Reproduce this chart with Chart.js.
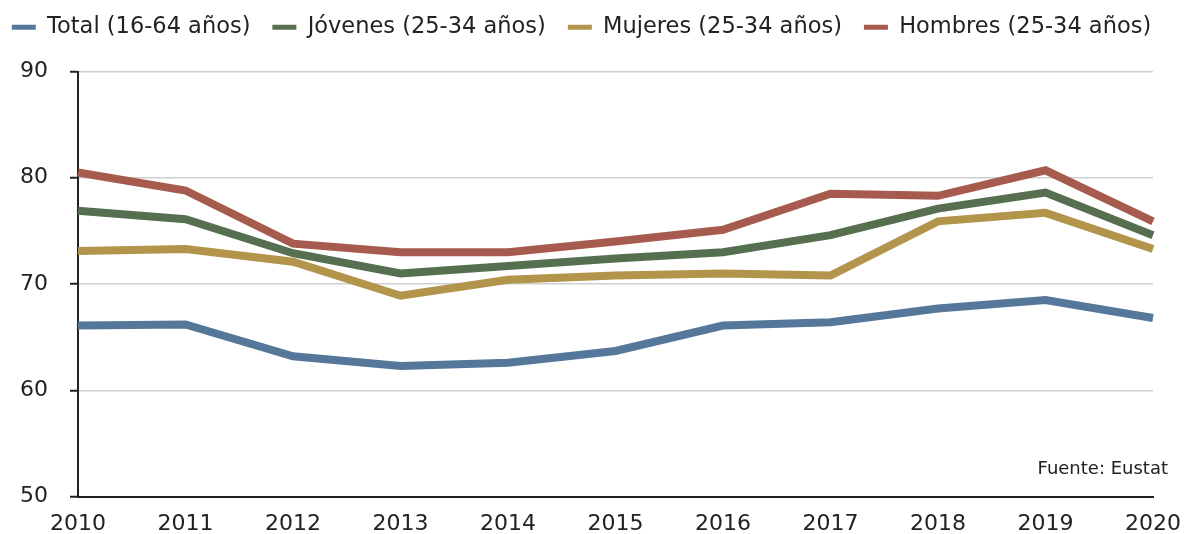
<!DOCTYPE html>
<html><head><meta charset="utf-8">
<script src="https://cdn.jsdelivr.net/npm/chart.js@4/dist/chart.umd.min.js"></script>
<style>
html,body{margin:0;padding:0;background:#fff;}
#wrap{position:relative;width:1184px;height:534px;}
#src{position:absolute;right:16px;top:457px;font-family:"DejaVu Sans",sans-serif;font-size:18px;color:#222;}
</style></head>
<body><div id="wrap"><canvas id="c" width="1184" height="534"></canvas><div id="src">Fuente: Eustat</div></div>
<script>
const years = ["2010","2011","2012","2013","2014","2015","2016","2017","2018","2019","2020"];
const total = [66.1,66.2,63.2,62.3,62.6,63.7,66.1,66.4,67.7,68.5,66.8];
const jovenes = [76.9,76.1,72.9,71.0,71.7,72.4,73.0,74.6,77.1,78.6,74.6];
const mujeres = [73.1,73.3,72.1,68.9,70.4,70.8,71.0,70.8,75.9,76.7,73.3];
const hombres = [80.5,78.8,73.8,73.0,73.0,74.0,75.1,78.5,78.3,80.7,75.9];
const seriesNames = ["Total (16-64 años)","Jóvenes (25-34 años)","Mujeres (25-34 años)","Hombres (25-34 años)"];
const colors = ["#55789a","#566f50","#b2944b","#a65b4e"];
const yTicks = [50,60,70,80,90];

const FONT = "'DejaVu Sans', sans-serif";
const data = [total, jovenes, mujeres, hombres];
const legendSpace = {
  id: 'legendSpace',
  beforeInit(chart) {
    const orig = chart.legend.fit;
    chart.legend.fit = function() {
      const mw = this.maxWidth;
      this.maxWidth = mw + 100;
      orig.bind(this)();
      this.maxWidth = mw;
      this.width = Math.min(this.width, mw);
      this.height += 23;
    };
  },
  afterLayout(chart) {
    const lg = chart.legend;
    lg.left = -19;
    lg.right = 1182;
    lg.width = lg.right - lg.left;
  }
};
new Chart(document.getElementById('c'), {
  type: 'line',
  data: {
    labels: years,
    datasets: data.map((d,i)=>({label: seriesNames[i], data: d, borderColor: colors[i], backgroundColor: colors[i], borderWidth: 8, pointRadius: 0, tension: 0, fill:false}))
  },
  plugins: [legendSpace],
  options: {
    responsive: false,
    animation: false,
    devicePixelRatio: 1,
    layout: {padding: {left: 0, right: 9, top: -6, bottom: -17}},
    plugins: {
      tooltip: {enabled:false},
      legend: {
        position: 'top',
        labels: {
          boxWidth: 24, boxHeight: 5, padding: 22,
          color: '#222',
          font: {family: FONT, size: 22.5},
          generateLabels: (chart) => {
            const items = Chart.defaults.plugins.legend.labels.generateLabels(chart);
            items.forEach(it => { it.lineWidth = 0; it.fillStyle = it.strokeStyle; });
            return items;
          }
        }
      }
    },
    scales: {
      x: {
        grid: {display: false, drawTicks:false},
        border: {color: '#222', width: 2},
        afterFit: (ax) => { ax.paddingRight = 31; ax.paddingLeft = 0; },
        ticks: {color:'#222', font: {family: FONT, size: 22}, padding: 14, maxRotation: 0, autoSkip:false}
      },
      y: {
        min: 50, max: 90,
        afterBuildTicks: (ax) => { ax.ticks = yTicks.map(v=>({value:v})); },
        afterFit: (ax) => { ax.width = 78; },
        grid: {color: '#cfcfcf', lineWidth: 1.5, tickColor: '#222', tickLength: 8, tickWidth: 2},
        border: {color: '#222', width: 2},
        ticks: {color:'#222', font: {family: FONT, size: 22}, padding: 22}
      }
    }
  }
});
</script>
</body></html>
